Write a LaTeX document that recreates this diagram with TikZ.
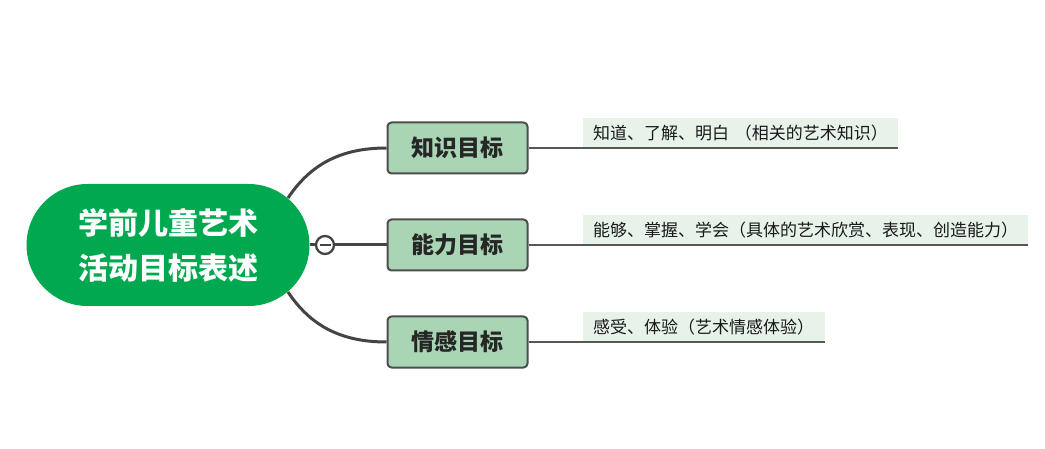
\documentclass[tikz,border=0pt]{standalone}
\usepackage{fontspec}
\newfontfamily\cjk{Noto Sans CJK SC}
\usetikzlibrary{calc,positioning}

\definecolor{rootgreen}{HTML}{00A94F}
\definecolor{branchgreen}{HTML}{A9D5B5}
\definecolor{leafgreen}{HTML}{E7F3E9}
\definecolor{linegray}{HTML}{444444}

\begin{document}
\begin{tikzpicture}[
  x=1pt,y=-1pt,
  conn/.style={draw=linegray,line width=3pt},
  thin/.style={draw=linegray!90,line width=1.1pt},
  rootnode/.style={rectangle,rounded corners=61pt,fill=rootgreen,minimum width=283pt,minimum height=122pt,
    inner sep=0pt,align=center,text=white,font=\cjk\bfseries\fontsize{30}{45}\selectfont},
  branch/.style={rectangle,rounded corners=4pt,draw=linegray!95,line width=2pt,fill=branchgreen,
    minimum width=140pt,minimum height=51pt,inner sep=0pt,text=black!85,font=\cjk\bfseries\fontsize{23}{27}\selectfont},
  leaf/.style={rectangle,fill=leafgreen,minimum height=30pt,inner xsep=10pt,inner ysep=0pt,
    align=left,anchor=south west,text=black!90,font=\cjk\fontsize{17}{20}\selectfont},
  foldnode/.style={circle,draw=linegray,line width=2.3pt,fill=white,minimum size=18pt,inner sep=0pt}
]
\useasboundingbox (0,0) rectangle (1045,449);

% ---------------- geometry ----------------
\def\xRoot{168}
\def\yMid{245}
\def\xBranch{457.5}
\def\yOne{148}
\def\yTwo{245}
\def\yThree{342}
\def\xLeaf{583}

% ---------------- root ----------------
\node[rootnode] (root) at (\xRoot,\yMid) {学前儿童艺术\\活动目标表述};

% ---------------- branches ----------------
\node[branch] (know)  at (\xBranch,\yOne)   {知识目标};
\node[branch] (skill) at (\xBranch,\yTwo)   {能力目标};
\node[branch] (feel)  at (\xBranch,\yThree) {情感目标};

% curve start points on the right half-circle of the root
\coordinate (r1) at (288,198);
\coordinate (r3) at (288,292);

\node[foldnode] (fold) at (325,\yMid) {};
\draw[line width=2.6pt,draw=linegray] ($(fold.center)+(-5.5,0)$) -- ($(fold.center)+(5.5,0)$);

\draw[conn] (r1) .. controls (310,165) and (340,\yOne) .. (know.west);
\draw[conn] (root.east) -- (fold.west);
\draw[conn] (fold.east) -- (skill.west);
\draw[conn] (r3) .. controls (310,325) and (340,\yThree) .. (feel.west);

% ---------------- leaves ----------------
\node[leaf,text width=295pt] (knowleaf)  at (\xLeaf,\yOne)   {知道、了解、明白 （相关的艺术知识）};
\node[leaf,text width=425pt] (skillleaf) at (\xLeaf,\yTwo)   {能够、掌握、学会（具体的艺术欣赏、表现、创造能力）};
\node[leaf,text width=222pt] (feelleaf)  at (\xLeaf,\yThree) {感受、体验（艺术情感体验）};

\draw[thin] (know.east)  -- (knowleaf.south east);
\draw[thin] (skill.east) -- (skillleaf.south east);
\draw[thin] (feel.east)  -- (feelleaf.south east);

\end{tikzpicture}
\end{document}
